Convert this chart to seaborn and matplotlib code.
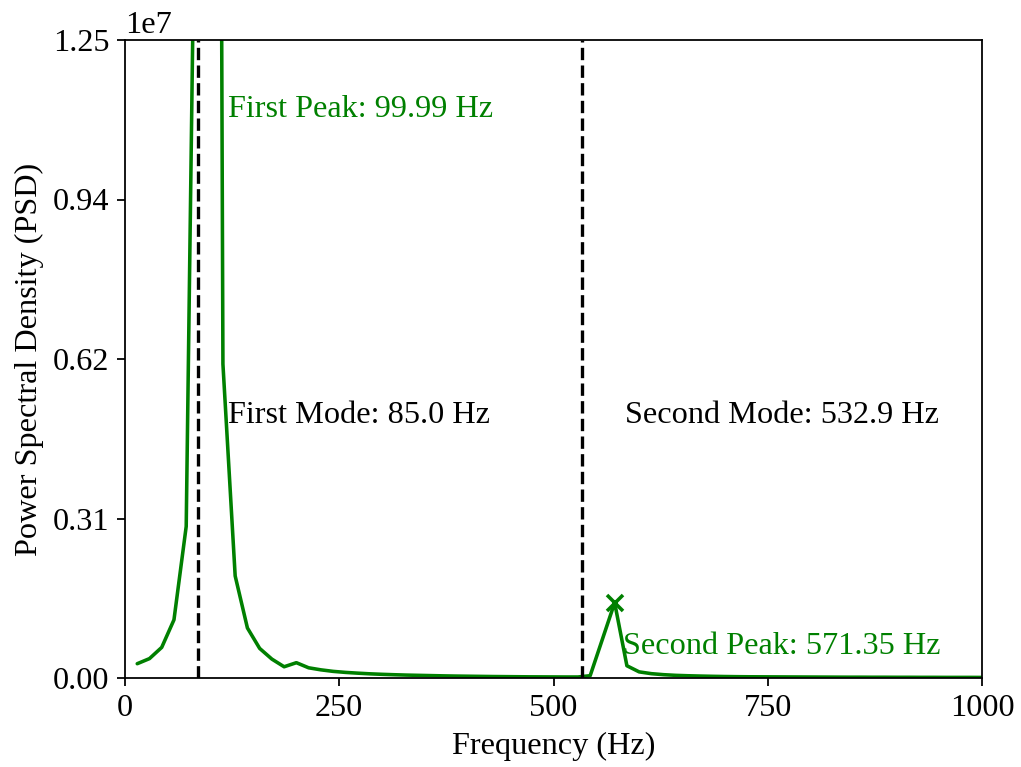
import numpy as np
import pandas as pd
import matplotlib
matplotlib.use("Agg")
import matplotlib.pyplot as plt
import seaborn as sns
from matplotlib.ticker import ScalarFormatter

# FFT bin frequencies (Hz)
freqs = [14.28, 28.57, 42.85, 57.14, 71.42, 85.70, 99.99, 114.27, 128.55, 142.84,
         157.12, 171.41, 185.69, 199.97, 214.26, 228.54, 242.82, 257.11, 271.39, 285.68,
         299.96, 314.24, 328.53, 342.81, 357.10, 371.38, 385.66, 399.95, 414.23, 428.51,
         442.80, 457.08, 471.37, 485.65, 499.93, 514.22, 528.50, 542.78, 557.07, 571.35,
         585.64, 599.92, 614.20, 628.49, 642.77, 657.06, 671.34, 685.62, 699.91, 714.19,
         728.47, 742.76, 757.04, 771.33, 785.61, 799.89, 814.18, 828.46, 842.74, 857.03,
         871.31, 885.60, 899.88, 914.16, 928.45, 942.73, 957.01, 971.30, 985.58, 999.87]

# Power spectral density at each bin (units of 1e6)
psd_e6 = [0.28, 0.38, 0.60, 1.14, 2.97, 21.0, 70.0, 6.15, 2.00, 0.98,
          0.58, 0.37, 0.22, 0.30, 0.20, 0.16, 0.13, 0.11, 0.095, 0.082,
          0.072, 0.064, 0.057, 0.052, 0.047, 0.042, 0.038, 0.035, 0.032, 0.029,
          0.027, 0.025, 0.023, 0.022, 0.021, 0.020, 0.020, 0.045, 0.76, 1.475,
          0.24, 0.12, 0.085, 0.065, 0.052, 0.044, 0.038, 0.033, 0.029, 0.026,
          0.024, 0.023, 0.022, 0.021, 0.020, 0.019, 0.018, 0.017, 0.016, 0.016,
          0.015, 0.015, 0.014, 0.014, 0.013, 0.013, 0.012, 0.012, 0.012, 0.011]

first_mode = 85.0
second_mode = 532.9
first_peak = 99.99
second_peak = 571.35
second_peak_psd_e6 = 1.475

y_max = 1.25e7
x_ticks = [0, 250, 500, 750, 1000]

df = pd.DataFrame({"Frequency": freqs, "PSD": np.array(psd_e6) * 1e6})

fs = 14.5
sns.set_theme(style="ticks")
plt.rcParams.update({
    "font.family": ["Liberation Serif", "DejaVu Serif"],
    "font.size": fs,
    "axes.labelsize": fs,
    "xtick.labelsize": fs,
    "ytick.labelsize": fs,
    "axes.edgecolor": "black",
    "axes.labelcolor": "black",
    "xtick.color": "black",
    "ytick.color": "black",
    "text.color": "black",
    "axes.linewidth": 0.8,
    "xtick.major.width": 0.8,
    "ytick.major.width": 0.8,
    "xtick.major.size": 3.5,
    "ytick.major.size": 3.5,
})

dpi = 160
fig = plt.figure(figsize=(1021 / dpi, 767 / dpi), dpi=dpi)
ax = fig.add_axes([125 / 1021, 1 - 678 / 767, (982 - 125) / 1021, (678 - 40) / 767])

sns.lineplot(data=df, x="Frequency", y="PSD", color="green", linewidth=1.6, ax=ax)

ax.axvline(first_mode, color="black", linestyle="--", linewidth=1.5)
ax.axvline(second_mode, color="black", linestyle="--", linewidth=1.5)

ax.plot([second_peak], [second_peak_psd_e6 * 1e6], marker="x", color="green",
        markersize=7, markeredgewidth=1.6, linestyle="none")

ax.text(first_peak + 20, 0.88 * y_max, f"First Peak: {first_peak} Hz", color="green",
        fontsize=fs, va="baseline")
ax.text(second_peak + 10, 0.48e6, f"Second Peak: {second_peak} Hz", color="green",
        fontsize=fs, va="baseline")
ax.text(first_mode + 35, 0.4 * y_max, f"First Mode: {first_mode} Hz", color="black",
        fontsize=fs, va="baseline")
ax.text(second_mode + 50, 0.4 * y_max, f"Second Mode: {second_mode} Hz", color="black",
        fontsize=fs, va="baseline")


class TwoDecimalFormatter(ScalarFormatter):
    def _set_format(self):
        self.format = "%.2f"


ax.set_xlim(0, 1000)
ax.set_ylim(0, y_max)
ax.set_xticks(x_ticks)
ax.set_yticks(np.linspace(0, y_max, 5))
fmt = TwoDecimalFormatter(useMathText=False)
fmt.set_powerlimits((0, 0))
ax.yaxis.set_major_formatter(fmt)
ax.yaxis.get_offset_text().set_fontsize(fs)

ax.set_xlabel("Frequency (Hz)")
ax.set_ylabel("Power Spectral Density (PSD)")
for side in ["top", "right", "left", "bottom"]:
    ax.spines[side].set_visible(True)
    ax.spines[side].set_color("black")

fig.savefig("out.png", dpi=dpi)
